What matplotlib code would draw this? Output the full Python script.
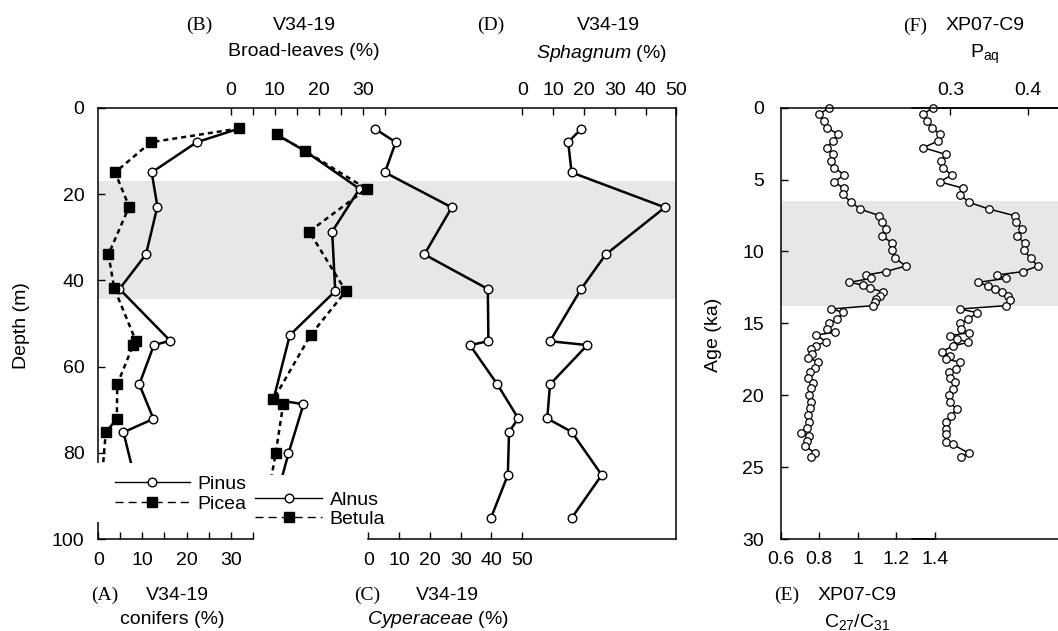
import numpy as np
import matplotlib.pyplot as plt
from matplotlib.patches import Rectangle
from matplotlib.lines import Line2D

plt.rcParams['font.family'] = ['Liberation Sans', 'DejaVu Sans']
plt.rcParams['mathtext.fontset'] = 'custom'
plt.rcParams['mathtext.rm'] = 'Liberation Sans'
plt.rcParams['mathtext.it'] = 'Liberation Sans:italic'
plt.rcParams['mathtext.default'] = 'regular'

# ---- data ----
# (A) conifers, V34-19
pinus_depth = [4.8, 8.0, 15.0, 22.9, 34.0, 42.0, 54.0, 55.0, 64.1, 72.1, 75.2, 86.0]
pinus = [32.0, 22.3, 12.1, 13.4, 10.8, 4.8, 16.3, 12.6, 9.3, 12.5, 5.7, 8.3]
picea_depth = [4.8, 8.0, 15.0, 22.9, 34.0, 41.8, 54.0, 55.0, 64.1, 72.1, 75.2, 86.0]
picea = [32.0, 11.9, 3.8, 7.0, 2.3, 3.6, 8.5, 7.9, 4.3, 4.2, 1.7, 0.8]

# (B) broad-leaves
alnus_depth = [6.2, 10.0, 18.8, 28.7, 42.5, 52.7, 67.6, 68.7, 80.1, 88.0]
alnus = [10.4, 16.8, 29.2, 23.0, 23.7, 13.4, 9.7, 16.5, 13.1, 11.0]
betula_depth = [6.2, 10.0, 18.8, 28.7, 42.5, 52.7, 67.6, 68.7, 80.1, 88.0]
betula = [10.4, 16.8, 30.8, 17.8, 26.1, 18.1, 9.7, 11.9, 10.2, 8.8]

# (C) Cyperaceae, (D) Sphagnum
cs_depth = [4.9, 8.0, 15.0, 23.1, 34.0, 42.0, 54.1, 55.0, 64.1, 72.0, 75.1, 85.1, 95.1]
cyperaceae = [2.2, 8.9, 5.4, 27.1, 18.2, 38.8, 39.0, 33.0, 41.9, 48.7, 45.7, 45.3, 39.8]
sphagnum = [19.1, 14.9, 16.0, 46.3, 27.1, 19.1, 9.0, 21.1, 9.0, 8.1, 16.0, 25.8, 16.0]

# (E) C27/C31, XP07-C9
e_age = [0.0, 0.46, 0.90, 1.39, 1.85, 2.32, 2.78, 3.25, 3.71, 4.17, 4.68, 5.15, 5.61,
         6.03, 6.54, 7.05, 7.51, 7.97, 8.44, 8.90, 9.43, 9.90, 10.48, 11.01, 11.40,
         11.64, 11.87, 12.15, 12.33, 12.56, 12.80, 13.07, 13.31, 13.54, 13.77, 14.00,
         14.23, 14.70, 15.00, 15.39, 15.62, 15.81, 16.27, 16.55, 16.78, 17.15, 17.43,
         17.66, 18.13, 18.40, 18.82, 19.17, 19.52, 19.98, 20.45, 20.91, 21.37, 21.84,
         22.25, 22.65, 22.81, 23.18, 23.50, 24.04, 24.27]
c27_c31 = [0.851, 0.799, 0.825, 0.842, 0.898, 0.870, 0.839, 0.874, 0.861, 0.879, 0.931,
           0.877, 0.929, 0.922, 0.964, 1.012, 1.113, 1.125, 1.145, 1.125, 1.180, 1.177,
           1.194, 1.251, 1.145, 1.043, 1.069, 0.957, 1.026, 1.064, 1.130, 1.116, 1.095,
           1.090, 1.081, 0.861, 0.926, 0.894, 0.853, 0.842, 0.882, 0.784, 0.836, 0.784,
           0.756, 0.761, 0.744, 0.796, 0.778, 0.752, 0.744, 0.766, 0.756, 0.747, 0.756,
           0.752, 0.744, 0.747, 0.735, 0.706, 0.747, 0.735, 0.726, 0.778, 0.758]

# (F) Paq, XP07-C9
f_age = [0.0, 0.46, 0.90, 1.39, 1.85, 2.32, 2.78, 3.25, 3.71, 4.17, 4.68, 5.15, 5.61,
         6.07, 6.58, 7.05, 7.51, 7.97, 8.44, 8.90, 9.43, 9.90, 10.48, 11.01, 11.40,
         11.64, 11.87, 12.15, 12.40, 12.63, 12.84, 13.07, 13.37, 13.77, 14.00, 14.26,
         14.72, 15.00, 15.42, 15.65, 15.86, 16.09, 16.32, 16.58, 16.97, 17.25, 17.48,
         17.71, 18.18, 18.41, 18.82, 19.10, 19.56, 19.98, 20.45, 20.96, 21.42, 21.88,
         22.35, 22.72, 23.23, 23.41, 24.04, 24.27]
paq = [0.277, 0.265, 0.270, 0.276, 0.287, 0.284, 0.265, 0.294, 0.288, 0.290, 0.302,
       0.286, 0.317, 0.313, 0.324, 0.350, 0.383, 0.385, 0.393, 0.386, 0.396, 0.395,
       0.404, 0.413, 0.394, 0.360, 0.372, 0.336, 0.349, 0.358, 0.367, 0.374, 0.377,
       0.372, 0.312, 0.335, 0.323, 0.313, 0.314, 0.324, 0.299, 0.309, 0.323, 0.303,
       0.289, 0.299, 0.294, 0.313, 0.307, 0.298, 0.299, 0.306, 0.303, 0.298, 0.299,
       0.308, 0.301, 0.295, 0.294, 0.294, 0.294, 0.303, 0.324, 0.314]

depth_band = (17.0, 44.3)
age_band = (6.5, 13.8)

# ---- layout (pixels) ----
W, H = 1058, 631
fig = plt.figure(figsize=(W / 100, H / 100), dpi=100)


def box(x0, y0, x1, y1):
    return [x0 / W, 1 - y1 / H, (x1 - x0) / W, (y1 - y0) / H]


def fxy(x, y):
    return x / W, 1 - y / H


BAND = '#e6e7e8'
FS = 14
open_c = dict(marker='o', ms=6.2, mfc='white', mec='black', mew=1.0, color='black',
              lw=1.8, clip_on=False)
filled_s = dict(marker='s', ms=6.5, mfc='black', mec='black', color='black',
                lw=1.8, ls=(0, (2, 1.6)), clip_on=False)


def bare(ax, ylim):
    ax.patch.set_visible(False)
    ax.set_ylim(*ylim)
    ax.set_yticks([])
    for s in ax.spines.values():
        s.set_visible(False)
    ax.tick_params(axis='x', direction='in', length=5, width=1, labelsize=FS)


# main frame of left panel
axM = fig.add_axes(box(98.3, 107.7, 676, 539.3))
axM.set_xlim(0, 1)
axM.set_ylim(100, 0)
axM.set_xticks([])
axM.axhspan(*depth_band, color=BAND, lw=0, zorder=0)
axM.spines['bottom'].set_visible(False)
for s in ['left', 'top', 'right']:
    axM.spines[s].set_linewidth(1.1)
axM.set_yticks(range(0, 101, 20))
axM.tick_params(axis='y', direction='in', length=5, width=1, pad=10, labelsize=FS)
fig.text(*fxy(22, 326), 'Depth (m)', rotation=90, ha='center', va='center', fontsize=FS)

# (A) conifers
axA = fig.add_axes(box(98.3, 107.7, 252.7, 539.3))
bare(axA, (100, 0))
axA.set_xlim(0, 35)
axA.spines['bottom'].set_visible(True)
axA.spines['bottom'].set_linewidth(1.1)
axA.set_xticks(range(0, 36, 5))
axA.set_xticklabels(['0', '', '10', '', '20', '', '30', ''])
axA.tick_params(axis='x', pad=9)
axA.plot(pinus, pinus_depth, **open_c)
axA.plot(picea, picea_depth, **filled_s)

# (B) broad-leaves
axB = fig.add_axes(box(230.7, 107.7, 385.1, 539.3))
bare(axB, (100, 0))
axB.set_xlim(0, 35)
axB.xaxis.tick_top()
axB.set_xticks(range(0, 36, 5))
axB.set_xticklabels(['0', '', '10', '', '20', '', '30', ''])
axB.tick_params(axis='x', pad=6)
axB.plot(alnus, alnus_depth, **open_c)
axB.plot(betula, betula_depth, **filled_s)

# legend backgrounds cover lines and spine, as in the original
for (x0, y0, x1, y1) in [(95, 463, 252, 522), (252, 475, 394, 530)]:
    axB.add_patch(Rectangle(fxy(x0, y1), (x1 - x0) / W, (y1 - y0) / H,
                            transform=fig.transFigure, facecolor='white',
                            edgecolor='none', zorder=6, clip_on=False))

h_open = Line2D([], [], color='black', lw=1.0, marker='o', ms=6.2, mfc='white', mec='black')
h_fill = Line2D([], [], color='black', lw=1.0, ls=(0, (5.8, 3.6)), marker='s', ms=6.5,
                mfc='black', mec='black')
leg_kw = dict(frameon=False, loc='upper left', borderpad=0, borderaxespad=0,
              labelspacing=0.1, handletextpad=0.4, fontsize=FS,
              bbox_transform=fig.transFigure)
leg1 = axB.legend([h_open, h_fill], ['Pinus', 'Picea'], handlelength=3.85,
                  bbox_to_anchor=fxy(115, 475.5), **leg_kw)
leg1.set_zorder(7)
axB.add_artist(leg1)
leg2 = axB.legend([h_open, h_fill], ['Alnus', 'Betula'], handlelength=3.45,
                  bbox_to_anchor=fxy(255, 491), **leg_kw)
leg2.set_zorder(7)

# (C) Cyperaceae
axC = fig.add_axes(box(368.3, 107.7, 522.3, 539.3))
bare(axC, (100, 0))
axC.set_xlim(0, 50)
axC.spines['bottom'].set_visible(True)
axC.spines['bottom'].set_linewidth(1.1)
axC.set_xticks(range(0, 51, 10))
axC.tick_params(axis='x', pad=9)
axC.plot(cyperaceae, cs_depth, **open_c)

# (D) Sphagnum
axD = fig.add_axes(box(522.3, 107.7, 676.3, 539.3))
bare(axD, (100, 0))
axD.set_xlim(0, 50)
axD.spines['bottom'].set_visible(True)
axD.spines['bottom'].set_linewidth(1.1)
axD.xaxis.tick_top()
axD.set_xticks(range(0, 51, 10))
axD.tick_params(axis='x', pad=6)
axD.plot(sphagnum, cs_depth, **open_c)

# right panel: (E) C27/C31
small_c = dict(marker='o', ms=5.4, mfc='white', mec='black', mew=0.9, color='black',
               lw=1.1, clip_on=False)
axE = fig.add_axes(box(780.7, 107.7, 1058, 539))
axE.set_xlim(0.6, 0.6 + 277.3 / 192.5)
axE.set_ylim(30, 0)
axE.axhspan(*age_band, color=BAND, lw=0, zorder=0)
axE.spines['right'].set_visible(False)
for s in ['left', 'top', 'bottom']:
    axE.spines[s].set_linewidth(1.1)
axE.spines['bottom'].set_bounds(0.6, 1.4)
axE.set_yticks(range(0, 31, 5))
axE.set_xticks([0.6, 0.8, 1.0, 1.2, 1.4])
axE.set_xticklabels(['0.6', '0.8', '1', '1.2', '1.4'])
axE.tick_params(axis='y', direction='in', length=5, width=1, pad=12, labelsize=FS)
axE.tick_params(axis='x', direction='in', length=5, width=1, pad=9, labelsize=FS)
axE.plot(c27_c31, e_age, **small_c)
fig.text(*fxy(714, 335), 'Age (ka)', rotation=90, ha='center', va='center', fontsize=FS)

# (F) Paq
axF = fig.add_axes(box(911.7, 107.7, 1058, 539))
axF.patch.set_visible(False)
axF.set_xlim(0.25, 0.25 + 146.3 / 773)
axF.set_ylim(30, 0)
axF.set_yticks([])
for s in ['left', 'right']:
    axF.spines[s].set_visible(False)
for s in ['top', 'bottom']:
    axF.spines[s].set_linewidth(1.1)
axF.xaxis.tick_top()
axF.set_xticks([0.3, 0.4])
axF.set_xticklabels(['0.3', '0.4'])
axF.tick_params(axis='x', direction='in', length=5, width=1, pad=6, labelsize=FS)
axF.plot(paq, f_age, **small_c)

# ---- titles ----
serif = ['Liberation Serif', 'DejaVu Serif']
labels = [
    ('(B)', 199, 25, serif), ('V34-19', 304, 25, None), ('Broad-leaves (%)', 304, 51, None),
    ('(D)', 491, 25, serif), ('V34-19', 608, 25, None), (r'$\it{Sphagnum}$ (%)', 601, 53, None),
    ('(F)', 915, 26, serif), ('XP07-C9', 985, 26, None), (r'P$_{aq}$', 985, 54, None),
    ('(A)', 105, 595, serif), ('V34-19', 177, 595, None), ('conifers (%)', 172, 620, None),
    ('(C)', 367, 595, serif), ('V34-19', 447, 595, None), (r'$\it{Cyperaceae}$ (%)', 438, 620, None),
    ('(E)', 787, 595, serif), ('XP07-C9', 857, 595, None), (r'C$_{27}$/C$_{31}$', 857, 622, None),
]
for txt, x, y, fam in labels:
    kw = dict(ha='center', va='center', fontsize=FS)
    if fam:
        kw['family'] = fam
    fig.text(*fxy(x, y), txt, **kw)

fig.savefig('out.png', dpi=100)
